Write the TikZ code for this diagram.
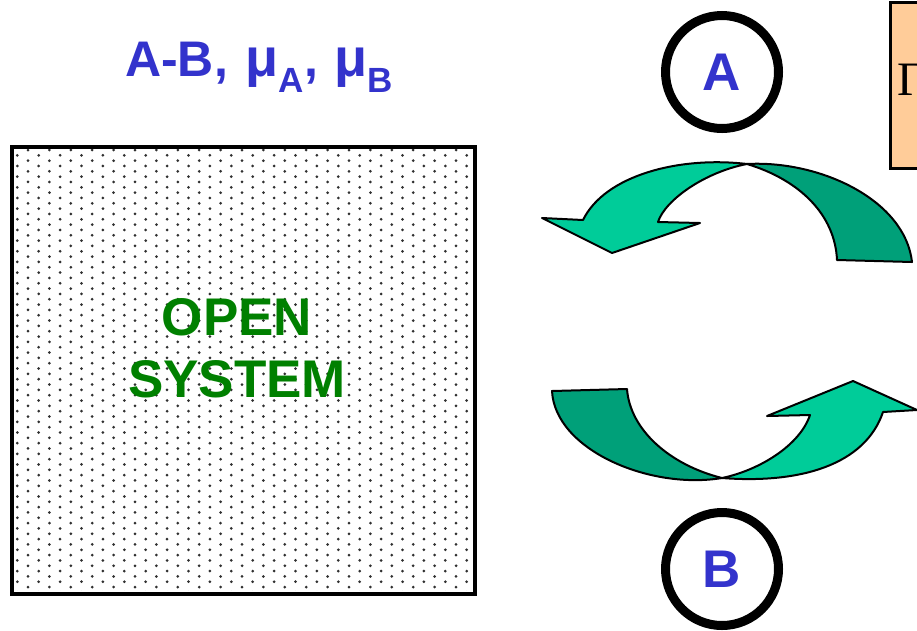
\documentclass[tikz,border=0pt]{standalone}
\usepackage{fontspec}
\setmainfont{Liberation Sans}
\newfontfamily\serifgr{Liberation Serif}
\definecolor{labelblue}{HTML}{3333CC}
\definecolor{sysgreen}{HTML}{008000}
\definecolor{lightgr}{HTML}{00CC99}
\definecolor{darkgr}{HTML}{00A079}
\definecolor{peach}{HTML}{FFCC99}
\definecolor{dotgray}{HTML}{303030}
\tikzset{
  ring/.style={circle, draw=black, line width=9pt, minimum size=113pt, inner sep=0pt,
    text=labelblue, font=\fontsize{53}{60}\selectfont\bfseries},
  ribbon/.style={draw=black, line width=2pt, line join=round},
}
\newcommand{\mubig}{{\fontsize{54}{60}\selectfont μ}}
\newcommand{\subl}[1]{\raisebox{-16pt}{\fontsize{35}{40}\selectfont #1}}
\begin{document}
\begin{tikzpicture}[x=1pt,y=-1pt]
\useasboundingbox (0,0) rectangle (917,630);
% open system box with dot pattern
\begin{scope}
  \clip (11.5,146.5) rectangle (471.5,590.5);
  \foreach \k in {0,...,84} {
    \pgfmathsetmacro{\yy}{150+5.33*\k}
    \pgfmathsetmacro{\xo}{isodd(\k) ? 17.3 : 28.0}
    \foreach \j in {0,...,22} {
      \fill[dotgray] ({\xo+21.4*\j},\yy) circle (1.5);
    }
  }
\end{scope}
\node[draw=black, line width=3.5pt, minimum width=463pt, minimum height=447pt, inner sep=0pt, anchor=north west] (sys) at (10,145) {};
\node[text=sysgreen, font=\fontsize{53}{62}\selectfont\bfseries, align=center] (label) at (237,348) {OPEN\\SYSTEM};
% title
\node[anchor=base west, inner sep=0pt, text=labelblue, font=\bfseries] (title) at (125,76)
  {\fontsize{50}{60}\selectfont A-B,\hspace{4pt} \mubig\subl{A},\hspace{3pt} \mubig\subl{B}};
% reservoir box (cut at right edge)
\node[draw=black, fill=peach, line width=2.5pt, minimum width=50pt, minimum height=166pt, inner sep=0pt, anchor=north west] (res) at (889,1) {};
\node[anchor=base west, inner sep=0pt, font=\serifgr\fontsize{48}{56}\selectfont] (gamma) at (897,95) {Γ};
% species circles
\node[ring] (A) at (722,72) {A};
\node[ring] (B) at (722,569) {B};
% top arrow (A leaves the system)
\filldraw[ribbon, fill=darkgr] (747,164) .. controls (820,160) and (905,200) .. (912,262) -- (837,260)
  .. controls (835,215) and (800,180) .. (747,164) -- cycle;
\filldraw[ribbon, fill=lightgr] (747,164) .. controls (680,156) and (605,175) .. (583,220)
  -- (542,218) -- (612,253) -- (700,223) -- (658,222)
  .. controls (665,200) and (705,172) .. (747,164) -- cycle;
% bottom arrow (B enters the system)
\filldraw[ribbon, fill=darkgr] (552,391) -- (627,389)
  .. controls (630,430) and (670,465) .. (722,478)
  .. controls (650,490) and (555,450) .. (552,391) -- cycle;
\filldraw[ribbon, fill=lightgr] (722,478) .. controls (800,484) and (865,465) .. (883,412)
  -- (917,410) -- (853,381) -- (767,416) -- (810,415)
  .. controls (800,445) and (760,470) .. (722,478) -- cycle;
\end{tikzpicture}
\end{document}
